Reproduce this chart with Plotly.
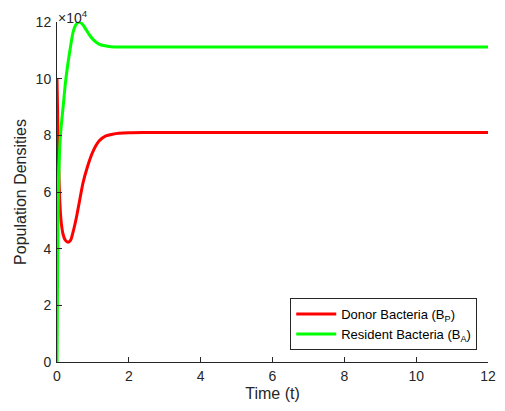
import plotly.graph_objects as go

# Time points and population densities (x 1e4)
t_donor = [0, 0.02, 0.04, 0.06, 0.08, 0.12, 0.17, 0.23, 0.31, 0.38, 0.45, 0.54, 0.63, 0.72, 0.85, 0.99,
           1.17, 1.36, 1.55, 1.72, 2.0, 2.4, 3.0, 4, 6, 8, 10, 12]
donor = [10.0, 8.6, 7.3, 6.3, 5.6, 4.9, 4.5, 4.3, 4.23, 4.3, 4.6, 5.1, 5.7, 6.3, 6.9, 7.4,
         7.8, 7.98, 8.04, 8.07, 8.09, 8.1, 8.1, 8.1, 8.1, 8.1, 8.1, 8.1]

t_res = [0, 0.01, 0.02, 0.04, 0.06, 0.09, 0.13, 0.17, 0.23, 0.3, 0.36, 0.45, 0.54, 0.63, 0.72, 0.8,
         0.9, 1.03, 1.17, 1.33, 1.5, 1.8, 2.2, 3, 4, 6, 8, 10, 12]
resident = [0.0, 2.0, 3.8, 5.9, 7.0, 7.9, 8.5, 9.0, 9.8, 10.5, 11.0, 11.65, 11.93, 12.0, 11.9, 11.75,
            11.55, 11.35, 11.22, 11.16, 11.13, 11.12, 11.12, 11.12, 11.12, 11.12, 11.12, 11.12, 11.12]

x_ticks = [0, 2, 4, 6, 8, 10, 12]
y_ticks = [0, 2, 4, 6, 8, 10, 12]

fig = go.Figure()
fig.add_trace(go.Scatter(x=t_donor, y=donor, mode="lines", line=dict(color="#ff0000", width=3, shape="spline", smoothing=0.6),
                         name="Donor Bacteria (B<sub>P</sub>)"))
fig.add_trace(go.Scatter(x=t_res, y=resident, mode="lines", line=dict(color="#00ff00", width=3, shape="spline", smoothing=0.6),
                         name="Resident Bacteria (B<sub>A</sub>)"))

axis_color = "#262626"
fig.update_layout(
    width=505, height=411,
    margin=dict(l=57, r=9, t=22, b=49),
    paper_bgcolor="white", plot_bgcolor="white",
    font=dict(family="Liberation Sans, Arial, sans-serif", color=axis_color, size=13),
    showlegend=True,
    legend=dict(x=0.975, y=0.035, xanchor="right", yanchor="bottom",
                bordercolor=axis_color, borderwidth=1, bgcolor="white",
                font=dict(size=13, color="#000000"), tracegroupgap=2, itemwidth=40),
    xaxis=dict(range=[0, 12], tickvals=x_ticks, ticks="inside", ticklen=5, tickcolor=axis_color,
               showline=True, linecolor=axis_color, linewidth=1, showgrid=False, zeroline=False,
               ticklabelstandoff=1, tickfont=dict(size=14),
               title=dict(text="Time (t)", font=dict(size=16), standoff=5)),
    yaxis=dict(range=[0, 12], tickvals=y_ticks, ticks="inside", ticklen=5, tickcolor=axis_color,
               showline=True, linecolor=axis_color, linewidth=1, showgrid=False, zeroline=False,
               ticklabelstandoff=2, tickfont=dict(size=14),
               title=dict(text="Population Densities", font=dict(size=16), standoff=5)),
)
fig.add_annotation(text="×10<sup>4</sup>", xref="paper", yref="paper", x=0, y=1, xanchor="left", yanchor="bottom",
                   showarrow=False, font=dict(size=14, color=axis_color), xshift=-1, yshift=-6)

fig.write_html("out.html")
